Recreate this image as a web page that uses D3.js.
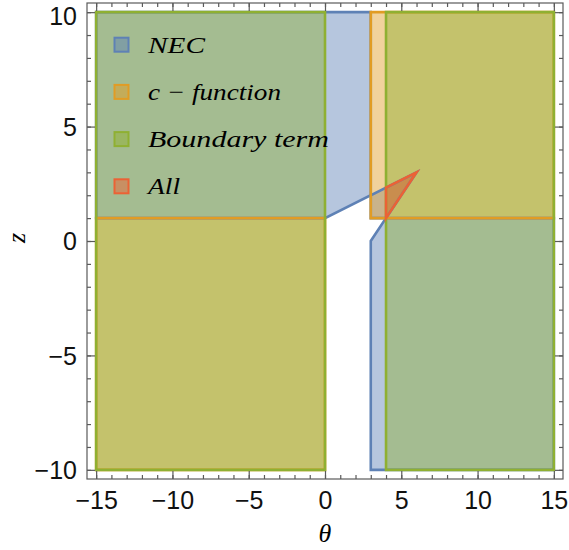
<!DOCTYPE html>
<html><head><meta charset="utf-8">
<script src="https://cdn.jsdelivr.net/npm/d3@7"></script>
<style>body{margin:0;background:#fff}svg{display:block}</style>
</head><body>
<script>
// ---- data ----
const xTicks = [-15, -10, -5, 0, 5, 10, 15];
const yTicks = [-10, -5, 0, 5, 10];
const seriesNames = ["NEC", "c − function", "Boundary term", "All"];
const seriesColors = ["#5e81b5", "#e19c24", "#8fb032", "#eb6235"];
// region polygons, vertices as (θ, z)
const necRegions = [
  [[-15, 10], [3, 10], [3, 2], [0, 1], [-15, 1]],
  [[3, 1], [3, 2], [6, 3], [4, 1]],
  [[3, -10], [3, 0], [4, 1], [15, 1], [15, -10]]
];
const cfuncRegions = [
  [[3, 1], [15, 1], [15, 10], [3, 10]],
  [[-15, -10], [0, -10], [0, 1], [-15, 1]]
];
const boundaryRegions = [
  [[-15, -10], [0, -10], [0, 10], [-15, 10]],
  [[4, -10], [15, -10], [15, 10], [4, 10]]
];
const allRegions = [
  [[4, 1], [6, 3], [4, 7 / 3]]
];
const regionSets = [necRegions, cfuncRegions, boundaryRegions, allRegions];

// ---- layout ----
const W = 569, H = 550;
const x = d3.scaleLinear().domain([-15.6, 15.6]).range([87, 563]);
const y = d3.scaleLinear().domain([-10.4, 10.4]).range([479, 3]);

const svg = d3.select("body").append("svg").attr("width", W).attr("height", H);
const line = d3.line().x(d => x(d[0])).y(d => y(d[1]));
const fillOpacity = 0.45;

// fills
regionSets.forEach((set, i) => {
  svg.append("g").selectAll("path").data(set).join("path")
    .attr("d", d => line(d) + "Z")
    .attr("fill", seriesColors[i]).attr("fill-opacity", fillOpacity)
    .attr("stroke", "none");
});
// boundaries
regionSets.forEach((set, i) => {
  svg.append("g").selectAll("path").data(set).join("path")
    .attr("d", d => line(d) + "Z")
    .attr("fill", "none").attr("stroke", seriesColors[i])
    .attr("stroke-width", 2.6).attr("stroke-linejoin", "miter");
});

// frame & ticks (inward)
const frameColor = "#5a5a5a";
const minorX = d3.range(-15, 16, 1), minorY = d3.range(-10, 11, 1);
const fr = svg.append("g");
fr.append("rect").attr("x", x.range()[0]).attr("y", y.range()[1])
  .attr("width", x.range()[1] - x.range()[0]).attr("height", y.range()[0] - y.range()[1])
  .attr("fill", "none").attr("stroke", frameColor).attr("stroke-width", 1.2);

const fmt = d => d < 0 ? "\u2212" + Math.abs(d) : d;
const axB = d3.axisBottom(x).tickValues(minorX).tickSize(-4).tickFormat("");
const axT = d3.axisTop(x).tickValues(minorX).tickSize(-4).tickFormat("");
const axL = d3.axisLeft(y).tickValues(minorY).tickSize(-4).tickFormat("");
const axR = d3.axisRight(y).tickValues(minorY).tickSize(-4).tickFormat("");
const axBM = d3.axisBottom(x).tickValues(xTicks).tickSize(-8).tickPadding(12).tickFormat(fmt);
const axTM = d3.axisTop(x).tickValues(xTicks).tickSize(-8).tickFormat("");
const axLM = d3.axisLeft(y).tickValues(yTicks).tickSize(-8).tickPadding(10).tickFormat(fmt);
const axRM = d3.axisRight(y).tickValues(yTicks).tickSize(-8).tickFormat("");

function put(ax, tr) {
  const g = fr.append("g").attr("transform", tr).call(ax);
  g.select(".domain").remove();
  g.selectAll("line").attr("stroke", frameColor).attr("stroke-width", 1.2);
  g.selectAll("text").attr("fill", "#111").attr("font-family", "Liberation Sans, Arial, sans-serif").attr("font-size", 25);
  return g;
}
put(axB, `translate(0,${y.range()[0]})`);
put(axT, `translate(0,${y.range()[1]})`);
put(axL, `translate(${x.range()[0]},0)`);
put(axR, `translate(${x.range()[1]},0)`);
put(axBM, `translate(0,${y.range()[0]})`);
put(axTM, `translate(0,${y.range()[1]})`);
const gl = put(axLM, `translate(${x.range()[0]},0)`);
gl.selectAll("text").attr("dy", d => d === d3.max(yTicks) ? "0.5em" : "0.35em");
put(axRM, `translate(${x.range()[1]},0)`);

// axis labels
svg.append("text").attr("x", 325).attr("y", 542).attr("text-anchor", "middle")
  .attr("font-family", "Liberation Serif, serif").attr("font-style", "italic")
  .attr("font-size", 26).text("θ");
svg.append("text").attr("transform", "translate(25,238) rotate(-90)").attr("text-anchor", "middle")
  .attr("font-family", "Liberation Serif, serif").attr("font-style", "italic")
  .attr("font-size", 26).text("z");

// legend
const legendWidths = [57, 133, 181, 32];
const lg = svg.append("g");
seriesNames.forEach((name, i) => {
  const cy = 44.7 + i * 47.2;
  lg.append("rect").attr("x", 114.5).attr("y", cy - 7).attr("width", 14).attr("height", 14)
    .attr("fill", seriesColors[i]).attr("fill-opacity", 0.5)
    .attr("stroke", seriesColors[i]).attr("stroke-width", 2);
  lg.append("text").attr("x", 148).attr("y", cy + 8)
    .attr("font-family", "Liberation Serif, serif").attr("font-style", "italic")
    .attr("font-size", 24)
    .attr("textLength", legendWidths[i]).attr("lengthAdjust", "spacingAndGlyphs")
    .text(name);
});
</script>
</body></html>
